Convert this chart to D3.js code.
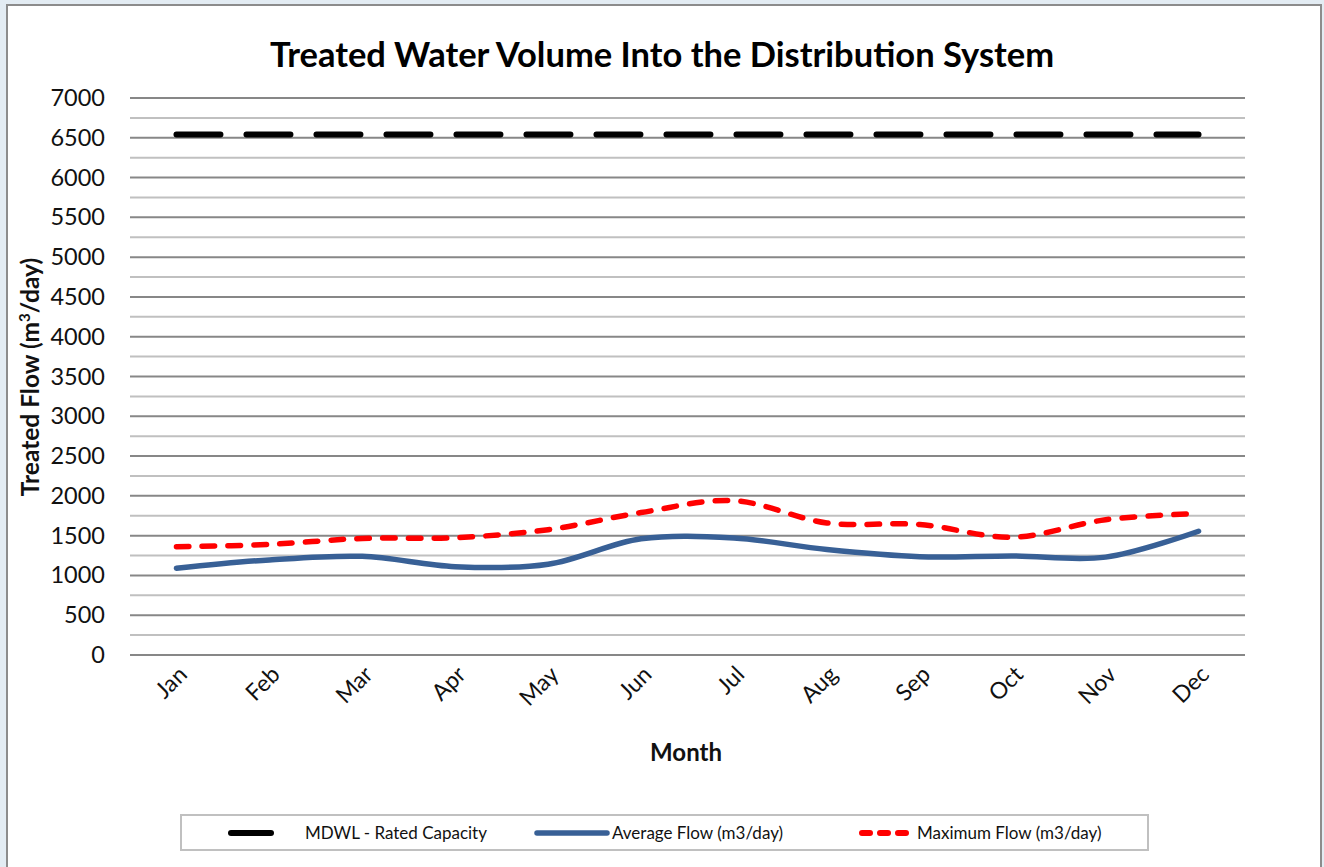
<!DOCTYPE html>
<html>
<head>
<meta charset="utf-8">
<script src="https://cdn.jsdelivr.net/npm/d3@7"></script>
<style>
	html, body { margin: 0; padding: 0; background: #e3ecf3; }
	svg { display: block; }
</style>
</head>
<body>
<div id="chart"></div>
<script>
var months = ["Jan", "Feb", "Mar", "Apr", "May", "Jun", "Jul", "Aug", "Sep", "Oct", "Nov", "Dec"];
var ratedCapacity = [6540, 6540, 6540, 6540, 6540, 6540, 6540, 6540, 6540, 6540, 6540, 6540];
var averageFlow = [1090, 1195, 1240, 1110, 1140, 1460, 1470, 1325, 1235, 1245, 1230, 1555];
var maximumFlow = [1360, 1390, 1465, 1475, 1575, 1790, 1940, 1660, 1640, 1480, 1700, 1780];
var yTicks = [0, 500, 1000, 1500, 2000, 2500, 3000, 3500, 4000, 4500, 5000, 5500, 6000, 6500, 7000];
var yMinorTicks = [250, 750, 1250, 1750, 2250, 2750, 3250, 3750, 4250, 4750, 5250, 5750, 6250, 6750];
var seriesNames = ["MDWL - Rated Capacity", "Average Flow (m3/day)", "Maximum Flow (m3/day)"];

var width = 1324, height = 867;
var font = "Lato, 'Open Sans', sans-serif";

var svg = d3.select("#chart").append("svg")
	.attr("width", width).attr("height", height);

// chart frame
svg.append("rect").attr("x", 7).attr("y", 5).attr("width", 1314).attr("height", 870)
	.attr("fill", "white").attr("stroke", "#8c8c8c").attr("stroke-width", 2);

var x = d3.scalePoint().domain(months).range([130, 1245]).padding(0.5);
var y = d3.scaleLinear().domain([0, 7000]).range([655, 98]);

// grid lines (minor first, major on top)
svg.selectAll("line.minor").data(yMinorTicks).enter().append("line")
	.attr("class", "minor")
	.attr("x1", 130).attr("x2", 1245)
	.attr("y1", function(d) { return y(d); }).attr("y2", function(d) { return y(d); })
	.attr("stroke", "#c0c0c0").attr("stroke-width", 2);
svg.selectAll("line.major").data(yTicks).enter().append("line")
	.attr("class", "major")
	.attr("x1", 130).attr("x2", 1245)
	.attr("y1", function(d) { return y(d); }).attr("y2", function(d) { return y(d); })
	.attr("stroke", "#878787").attr("stroke-width", 2);

// y axis labels
var yAxis = svg.append("g").attr("transform", "translate(130,0)")
	.call(d3.axisLeft(y).tickValues(yTicks).tickSize(0).tickPadding(25).tickFormat(d3.format("d")));
yAxis.select(".domain").remove();
yAxis.selectAll("text").attr("font-family", font).attr("font-size", "23.5px").attr("fill", "#111");

// x axis labels, rotated
svg.selectAll("text.month").data(months).enter().append("text")
	.attr("class", "month")
	.text(function(d) { return d; })
	.attr("font-family", font).attr("font-size", "23px").attr("fill", "#111")
	.attr("text-anchor", "end")
	.attr("transform", function(d) {
		return "translate(" + (x(d) + 12) + ",676) rotate(-45)";
	});

// titles
svg.append("text").text("Treated Water Volume Into the Distribution System")
	.attr("x", 662).attr("y", 67).attr("text-anchor", "middle")
	.attr("font-family", font).attr("font-weight", "bold").attr("font-size", "34.5px").attr("fill", "#000");

svg.append("text").text("Month")
	.attr("x", 686).attr("y", 761).attr("text-anchor", "middle")
	.attr("font-family", font).attr("font-weight", "bold").attr("font-size", "24px").attr("fill", "#111");

var yTitle = svg.append("text")
	.attr("transform", "translate(39,377) rotate(-90)")
	.attr("text-anchor", "middle")
	.attr("font-family", font).attr("font-weight", "bold").attr("font-size", "24.5px").attr("fill", "#111");
yTitle.append("tspan").text("Treated Flow (m");
yTitle.append("tspan").text("3").attr("font-size", "15px").attr("dy", -9);
yTitle.append("tspan").text("/day)").attr("dy", 9);

// series lines
function lineFor(values, curve) {
	return d3.line()
		.x(function(d, i) { return x(months[i]); })
		.y(function(d) { return y(d); })
		.curve(curve)(values);
}

svg.append("path").attr("d", lineFor(ratedCapacity, d3.curveLinear))
	.attr("fill", "none").attr("stroke", "#000").attr("stroke-width", 6)
	.attr("stroke-linecap", "round").attr("stroke-dasharray", "44,26");

svg.append("path").attr("d", lineFor(averageFlow, d3.curveCatmullRom.alpha(0.5)))
	.attr("fill", "none").attr("stroke", "#386096").attr("stroke-width", 5.5)
	.attr("stroke-linecap", "round");

svg.append("path").attr("d", lineFor(maximumFlow, d3.curveCatmullRom.alpha(0.5)))
	.attr("fill", "none").attr("stroke", "#ff0000").attr("stroke-width", 5.5)
	.attr("stroke-linecap", "round").attr("stroke-dasharray", "12.5,13.3");

// legend
var legend = svg.append("g");
legend.append("rect").attr("x", 181).attr("y", 815).attr("width", 967).attr("height", 35)
	.attr("fill", "white").attr("stroke", "#c0c0c0").attr("stroke-width", 2);

var legendItems = [
	{ name: seriesNames[0], x1: 231, x2: 279, tx: 305, color: "#000", dash: "40,100", w: 6 },
	{ name: seriesNames[1], x1: 537, x2: 607, tx: 612, color: "#386096", dash: null, w: 5.5 },
	{ name: seriesNames[2], x1: 862, x2: 906, tx: 917, color: "#ff0000", dash: "8,10", w: 6 }
];
legendItems.forEach(function(item) {
	var l = legend.append("line")
		.attr("x1", item.x1).attr("x2", item.x2).attr("y1", 833).attr("y2", 833)
		.attr("stroke", item.color).attr("stroke-width", item.w).attr("stroke-linecap", "round");
	if (item.dash) {
		l.attr("stroke-dasharray", item.dash);
	}
	legend.append("text").text(item.name)
		.attr("x", item.tx).attr("y", 839)
		.attr("font-family", font).attr("font-size", "17px").attr("fill", "#111");
});
</script>
</body>
</html>
